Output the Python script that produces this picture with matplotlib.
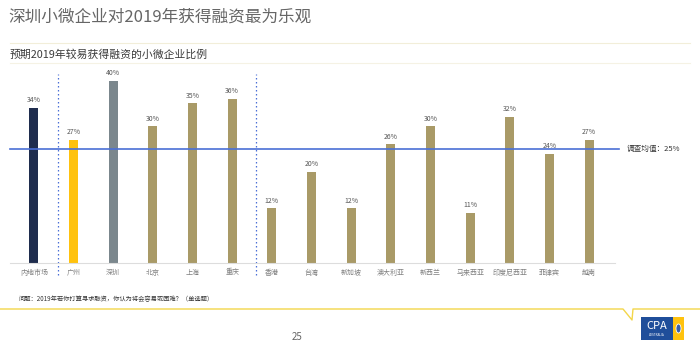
import matplotlib.pyplot as plt
from matplotlib.patches import Rectangle, Ellipse
from matplotlib.lines import Line2D

plt.rcParams['font.family'] = ['Noto Sans CJK SC', 'DejaVu Sans']

# data
regions = ["内地市场", "广州", "深圳", "北京", "上海", "重庆", "香港", "台湾", "新加坡",
           "澳大利亚", "新西兰", "马来西亚", "印度尼西亚", "菲律宾", "越南"]
shares = [34, 27, 40, 30, 35, 36, 12, 20, 12, 26, 30, 11, 32, 24, 27]
survey_mean = 25
dividers = [0.6, 5.6]

NAVY = "#1f2d4e"
YELLOW = "#ffc20e"
GREY = "#7b878d"
GOLD = "#a99a67"
BLUE = "#4a6fd6"

colors = [NAVY, YELLOW, GREY] + [GOLD] * (len(regions) - 3)

W, H = 700, 345
fig = plt.figure(figsize=(7, 3.45), dpi=100)


def fx(px):
    return px / W


def fy(py):
    return 1 - py / H


# headings
fig.text(fx(8), fy(17), "深圳小微企业对2019年获得融资最为乐观", fontsize=12,
         color="#666666", va="center", ha="left")
fig.add_artist(Line2D([fx(10), fx(690)], [fy(43), fy(43)], color="#f2eed9", lw=0.8))
fig.text(fx(10), fy(55), "预期2019年较易获得融资的小微企业比例", fontsize=7.8,
         color="#3a3a3a", va="center", ha="left")
fig.add_artist(Line2D([fx(10), fx(690)], [fy(63), fy(63)], color="#f5f2e4", lw=0.8))

# chart
ax = fig.add_axes([fx(10), fy(263), fx(615 - 10), (263 - 71.5) / H])
x = list(range(len(regions)))
ax.bar(x, shares, width=0.23, color=colors, zorder=2)
for xi, v in zip(x, shares):
    ax.text(xi, v + 0.8, f"{v}%", ha="center", va="bottom", fontsize=5, color="#555555")

ax.plot([-0.6, 14.75], [survey_mean, survey_mean], color=BLUE, lw=1.2, zorder=3,
        clip_on=False)
ax.text(14.95, survey_mean, f"调查均值：{survey_mean}%", fontsize=5.5, color="#333333",
        va="center", ha="left")

ax.vlines(dividers, -2.6, 41.5, colors=BLUE, linestyles=(0, (1.2, 2)), lw=0.9,
          clip_on=False)

ax.set_xlim(-0.6, 14.65)
ax.set_ylim(0, 42)
ax.set_xticks(x)
ax.set_xticklabels(regions, fontsize=5, color="#808080")
ax.tick_params(axis="x", length=0, pad=4)
ax.set_yticks([])
for s in ["top", "right", "left"]:
    ax.spines[s].set_visible(False)
ax.spines["bottom"].set_color("#dddddd")
ax.spines["bottom"].set_linewidth(0.8)

# footnote
fig.text(fx(18), fy(299), "问题：2019年若你打算寻求融资，你认为将会容易或困难？（单选题）",
         fontsize=4.5, color="#333333", style="italic", va="center", ha="left")
fig.add_artist(Line2D([fx(0), fx(623), fx(632), fx(633), fx(700)],
                      [fy(309), fy(309), fy(320), fy(309), fy(309)],
                      color="#f3d64a", lw=1))
fig.text(fx(297), fy(337), "25", fontsize=7, color="#666666", ha="center", va="center")

# logo
fig.add_artist(Rectangle((fx(641), fy(340)), fx(32), 23 / H, facecolor="#1f4e9a",
                         edgecolor="none"))
fig.add_artist(Rectangle((fx(673), fy(340)), fx(11), 23 / H, facecolor=YELLOW,
                         edgecolor="none"))
fig.text(fx(657), fy(326), "CPA", fontsize=8, color="white", ha="center", va="center")
fig.text(fx(657), fy(335.5), "AUSTRALIA", fontsize=2.2, color="white", ha="center",
         va="center")
fig.add_artist(Ellipse((fx(678.5), fy(328.5)), fx(5), 9 / H, facecolor="#3a5fa8",
                       edgecolor="white", lw=0.6))

fig.savefig("out.png", dpi=100)
